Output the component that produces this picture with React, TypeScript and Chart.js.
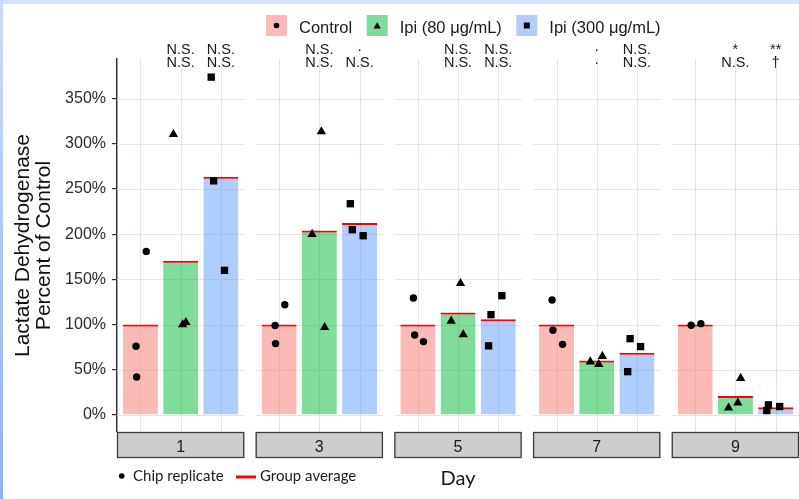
import React, { useEffect, useRef } from "react";
import { Chart, registerables } from "chart.js";

Chart.register(...registerables);

// ---------------- data ----------------
const days = ["1", "3", "5", "7", "9"];
const groups = ["Control", "Ipi (80 μg/mL)", "Ipi (300 μg/mL)"];
const yTicks = [0, 50, 100, 150, 200, 250, 300, 350];

const controlMean = [100, 100, 100, 100, 100];
const ipi80Mean = [170.7, 204, 113.3, 60.2, 21.2];
const ipi300Mean = [263.5, 212.4, 105.9, 69, 8.6];

const controlReps = [[76, 42, 181], [99, 79, 122], [129.5, 88.6, 81.2], [127.3, 93.7, 78.2], [99.3, 101.1]];
const ipi80Reps = [[310.5, 100, 102.5], [313.5, 200, 97], [145.7, 104, 89], [59, 56, 65], [40.7, 8, 13.5]];
const ipi300Reps = [[373.7, 259, 160], [233.7, 205, 198.3], [132, 111, 76.5], [84.5, 75.7, 48], [5, 11.3, 9.4]];

// horizontal jitter of replicates (fraction of one bar slot)
const controlJitter = [[-0.11, -0.095, 0.144], [-0.1, -0.09, 0.14], [-0.11, -0.08, 0.14], [-0.11, -0.09, 0.15], [-0.1, 0.14]];
const ipi80Jitter = [[-0.18, 0.05, 0.13], [0.05, -0.18, 0.13], [0.06, -0.17, 0.13], [-0.16, 0.05, 0.14], [0.13, -0.17, 0.06]];
const ipi300Jitter = [[-0.24, -0.18, 0.09], [-0.23, -0.18, 0.09], [0.09, -0.18, -0.24], [-0.17, 0.09, -0.23], [-0.22, -0.18, 0.1]];

const ipi80SigTop = ["N.S.", "N.S.", "N.S.", "·", "*"];
const ipi80SigBottom = ["N.S.", "N.S.", "N.S.", "·", "N.S."];
const ipi300SigTop = ["N.S.", "·", "N.S.", "N.S.", "**"];
const ipi300SigBottom = ["N.S.", "N.S.", "N.S.", "N.S.", "†"];

// ---------------- styling / layout ----------------
const fills = ["rgba(248,118,109,0.5)", "rgba(0,186,56,0.5)", "rgba(97,156,255,0.5)"];
const shapes = ["circle", "triangle", "rect"];
const radii = [3.7, 5.4, 5.2];
const PANEL_PITCH = 3.449;
const PANEL_EXPAND = 0.583;
const PANEL_WIDTH = 3.164;
const SANS = "'Liberation Sans', Arial, sans-serif";
const NARROW = "Lato, 'Liberation Sans', sans-serif";
const TEXT = "#1a1a1a";

const meansAll = [controlMean, ipi80Mean, ipi300Mean];
const repsAll = [controlReps, ipi80Reps, ipi300Reps];
const jitterAll = [controlJitter, ipi80Jitter, ipi300Jitter];
const sigAll = [null, [ipi80SigTop, ipi80SigBottom], [ipi300SigTop, ipi300SigBottom]];

const xPos = (panel: number, group: number, jitter = 0) => panel * PANEL_PITCH + group + jitter;

function drawMarker(ctx: CanvasRenderingContext2D, shape: string, x: number, y: number, r: number) {
  ctx.beginPath();
  if (shape === "circle") {
    ctx.arc(x, y, r, 0, Math.PI * 2);
  } else if (shape === "triangle") {
    ctx.moveTo(x, y - r);
    ctx.lineTo(x + r * 0.866, y + r * 0.5);
    ctx.lineTo(x - r * 0.866, y + r * 0.5);
    ctx.closePath();
  } else {
    ctx.rect(x - r, y - r, 2 * r, 2 * r);
  }
  ctx.fill();
}

const facetPlugin = {
  id: "facets",
  beforeDraw(chart: any) {
    const { ctx, width, height } = chart;
    ctx.save();
    ctx.fillStyle = "#d4e2fb";
    ctx.fillRect(0, 0, width, height);
    const g = ctx.createLinearGradient(0, 0, 0, height);
    g.addColorStop(0, "#cbdaf8");
    g.addColorStop(1, "#8db2f4");
    ctx.fillStyle = g;
    ctx.fillRect(0, 0, 3, height);
    ctx.fillStyle = "#ffffff";
    ctx.fillRect(3, 4, width - 3, height - 4);
    ctx.restore();
  },
  beforeDatasetsDraw(chart: any) {
    const { ctx, chartArea } = chart;
    const xs = chart.scales.x;
    const ys = chart.scales.y;
    ctx.save();
    ctx.strokeStyle = "#e8e3e5";
    ctx.lineWidth = 1.1;
    days.forEach((_d, p) => {
      const l = xs.getPixelForValue(p * PANEL_PITCH - PANEL_EXPAND);
      const r = xs.getPixelForValue(p * PANEL_PITCH - PANEL_EXPAND + PANEL_WIDTH);
      yTicks.forEach((t) => {
        const y = Math.round(ys.getPixelForValue(t)) + 0.5;
        ctx.beginPath();
        ctx.moveTo(l, y);
        ctx.lineTo(r, y);
        ctx.stroke();
      });
      groups.forEach((_g, gi) => {
        const x = Math.round(xs.getPixelForValue(xPos(p, gi))) + 0.5;
        ctx.beginPath();
        ctx.moveTo(x, chartArea.top);
        ctx.lineTo(x, chartArea.bottom);
        ctx.stroke();
      });
    });
    ctx.restore();
  },
  afterDraw(chart: any) {
    const { ctx, chartArea } = chart;
    const xs = chart.scales.x;
    ctx.save();
    // facet strips
    days.forEach((d, p) => {
      const l = xs.getPixelForValue(p * PANEL_PITCH - PANEL_EXPAND);
      const r = xs.getPixelForValue(p * PANEL_PITCH - PANEL_EXPAND + PANEL_WIDTH);
      const top = chartArea.bottom + 0.5;
      ctx.fillStyle = "#cdcdcd";
      ctx.fillRect(l, top, r - l, 25);
      ctx.strokeStyle = "#3c3c3c";
      ctx.lineWidth = 1.3;
      ctx.strokeRect(l + 0.5, top, r - l - 1, 25);
      ctx.fillStyle = TEXT;
      ctx.font = `16px ${SANS}`;
      ctx.textAlign = "center";
      ctx.textBaseline = "alphabetic";
      ctx.fillText(d, (l + Math.min(r, chart.width)) / 2, top + 19.5);
    });
    // significance labels
    ctx.font = `14.5px ${SANS}`;
    ctx.fillStyle = TEXT;
    ctx.textAlign = "center";
    days.forEach((_d, p) => {
      groups.forEach((_g, gi) => {
        const sig = sigAll[gi];
        if (!sig) return;
        const x = xs.getPixelForValue(xPos(p, gi));
        ctx.fillText(sig[0][p], x, chartArea.top - 5);
        ctx.fillText(sig[1][p], x, chartArea.top + 7.7);
      });
    });
    // top legend
    let lx = 266;
    ctx.font = `16.5px ${SANS}`;
    ctx.textAlign = "left";
    groups.forEach((g, gi) => {
      ctx.fillStyle = fills[gi];
      ctx.fillRect(lx, 15, 21, 21);
      ctx.fillStyle = "#000";
      const r = gi === 0 ? 2.8 : gi === 1 ? 4.2 : 3;
      drawMarker(ctx, shapes[gi], lx + 10.5, gi === 1 ? 26.5 : 25.5, r);
      ctx.fillStyle = TEXT;
      ctx.fillText(g, lx + 33, 33.3);
      lx = lx + 33 + ctx.measureText(g).width + 14.5;
    });
    // bottom legend
    const bl = chartArea.left;
    ctx.fillStyle = "#000";
    drawMarker(ctx, "circle", bl + 4.7, 476, 2.8);
    ctx.font = `15px ${NARROW}`;
    ctx.fillStyle = TEXT;
    ctx.fillText("Chip replicate", bl + 16, 481.3);
    ctx.strokeStyle = "#ff0000";
    ctx.lineWidth = 3;
    ctx.beginPath();
    ctx.moveTo(bl + 119, 477);
    ctx.lineTo(bl + 139, 477);
    ctx.stroke();
    ctx.fillText("Group average", bl + 143, 481.3);
    ctx.restore();
  },
};

export default function App() {
  const ref = useRef<HTMLCanvasElement>(null);
  useEffect(() => {
    const barSets: any[] = groups.map((g, gi) => ({
      type: "bar",
      label: g,
      data: days.map((_d, di) => ({ x: xPos(di, gi), y: meansAll[gi][di] })),
      backgroundColor: fills[gi],
      borderColor: "#ff0000",
      borderWidth: { top: 2, left: 0, right: 0, bottom: 0 },
      borderSkipped: "start",
      barThickness: 35,
      grouped: false,
      inflateAmount: 0,
      order: 2,
    }));
    const pointSets: any[] = groups.map((g, gi) => ({
      type: "scatter",
      label: g + " replicate",
      data: days.flatMap((_d, di) =>
        repsAll[gi][di].map((v, k) => ({ x: xPos(di, gi, jitterAll[gi][di][k]), y: v }))
      ),
      pointStyle: shapes[gi],
      pointRadius: radii[gi],
      pointBackgroundColor: "#000",
      pointBorderWidth: 0,
      showLine: false,
      order: 1,
    }));
    const chart = new Chart(ref.current as HTMLCanvasElement, {
      type: "bar",
      data: { datasets: [...barSets, ...pointSets] },
      options: {
        responsive: false,
        devicePixelRatio: 1,
        animation: false,
        events: [],
        layout: { autoPadding: false, padding: { top: 59, left: 0, right: 0, bottom: 0 } },
        plugins: { legend: { display: false }, tooltip: { enabled: false }, title: { display: false } },
        scales: {
          x: {
            type: "linear",
            offset: false,
            min: -PANEL_EXPAND,
            max: 4 * PANEL_PITCH - PANEL_EXPAND + PANEL_WIDTH,
            grid: { display: false },
            border: { display: false },
            ticks: { display: false },
            title: {
              display: true,
              text: "Day",
              font: { family: NARROW, size: 20 },
              color: TEXT,
              padding: { top: 0, bottom: 8.5 },
            },
            afterFit: (s: any) => {
              s.height = 67;
            },
          },
          y: {
            type: "linear",
            min: -18.75,
            max: 393.75,
            afterBuildTicks: (s: any) => {
              s.ticks = yTicks.map((v) => ({ value: v }));
            },
            ticks: {
              callback: (v: any) => v + "%",
              font: { family: SANS, size: 16 },
              color: "#2a2a2a",
              padding: 6,
            },
            grid: { drawOnChartArea: false, drawTicks: true, tickLength: 5, color: "#333333", lineWidth: 1.2 },
            border: { display: true, color: "#333333", width: 1.5 },
            title: {
              display: true,
              text: ["Lactate Dehydrogenase", "Percent of Control"],
              font: { family: SANS, size: 21, lineHeight: 1.0 },
              color: "#111111",
              padding: { top: 13, bottom: 0 },
            },
            afterFit: (s: any) => {
              s.width = 117;
            },
          },
        },
      } as any,
      plugins: [facetPlugin],
    } as any);
    return () => chart.destroy();
  }, []);
  return (
    <div style={{ position: "absolute", left: 0, top: 0, width: 799, height: 499, overflow: "hidden" }}>
      <canvas ref={ref} width={799} height={499} style={{ display: "block", width: 799, height: 499 }} />
    </div>
  );
}
